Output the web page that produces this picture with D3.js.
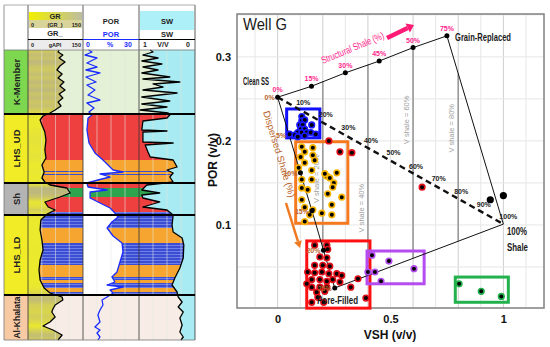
<!DOCTYPE html>
<html><head><meta charset="utf-8">
<script src="https://cdn.jsdelivr.net/npm/d3@7"></script>
<style>body{margin:0;background:#fff}svg{display:block}text{font-family:"Liberation Sans",Arial,sans-serif}</style>
</head><body><svg id="c" width="550" height="347"></svg>
<script>
// ================= WELL LOG DATA =================
const zoneNames   = ["K-Member","LHS_UD","Sh","LHS_LD","Al-Khalata"];
const zoneTops    = [0, 64, 133, 165, 245];
const zoneBottoms = [64, 133, 165, 245, 290];
const zoneColors  = ["#7dd84f","#f1ec25","#b4b4b4","#f1ec25","#f8caa4"];
const zoneTrackBg = ["#e4f1d7","#ffffff","#ffffff","#ffffff","#f7ede6"];

const lithTops    = [64, 110, 121, 124, 133, 138, 147, 162, 165, 178, 193, 215, 227, 230, 233, 238, 242];
const lithBottoms = [110,133, 122, 125, 138, 147, 162, 165, 178, 193, 215, 227, 230, 233, 238, 242, 245];
const lithTypes   = ["ls","dol","an","an","ls","sh","ls","an","an","dol","an","dol","an","dol","an","dol","an"];
const lithColors  = {ls:"#ef4040", dol:"#f6a531", an:"#3b4dd2", sh:"#2ea44e"};

const grDepth = [0,2,5,8,12,16,20,24,28,32,36,40,44,48,52,56,60,63,66,70,75,82,90,100,108,115,122,128,132,135,138,143,147,152,157,160,164,170,180,190,200,210,220,230,238,243,247,250,255,259,262,267,272,276,280,285,290];
const grValue = [85,82,95,85,101,87,79,93,82,98,87,101,85,95,82,90,74,60,41,33,38,46,49,46,49,38,44,38,46,60,106,115,87,46,55,74,52,35,33,38,41,33,30,33,44,60,93,95,74,68,65,74,60,41,68,93,82];

const porDepth = [0,2,5,8,13,17,20,23,27,32,35,40,45,50,53,58,62,65,68,80,93,103,110,117,120,122,124,127,130,133,137,140,142,148,153,158,163,167,172,178,186,193,202,212,222,227,232,235,237,240,243,247,250,255,260,265,272,277,280,283,287,290];
const porValue = [3,4.8,1.1,7.5,2.1,7.5,1.6,9.1,1.6,7.0,2.1,6.4,2.7,9.1,2.1,5.9,3.2,4.8,2.7,2.1,3.2,6.4,10.7,14.5,16.1,21.4,9.1,14.5,8.0,2.1,2.7,12.9,3.8,3.8,9.1,14.5,17.1,18.8,15.5,12.9,16.1,20.9,21.4,19.8,18.2,15.5,17.1,12.9,21.4,14.5,16.1,12.9,10.2,10.7,9.1,8.0,9.1,6.4,9.1,7.5,9.1,8.0];

const swDepth = [0,2,5,8,11,14,17,20,23,27,29,32,34,37,40,43,47,51,54,57,60,63,65,68,71,80,81,82,92,93,95,102,107,110,117,120,123,127,132,135,140,143,145,148,152,157,160,165,175,182,188,195,208,218,228,235,242,247,252,257,262,268,275,282,287,290];
const swValue = [0.8,0.75,0.93,0.66,0.95,0.59,0.93,0.66,0.95,0.45,0.93,0.27,0.75,0.57,0.93,0.32,0.95,0.45,0.95,0.5,0.98,0.48,0.45,0.5,0.93,0.95,0.5,0.93,0.93,0.39,0.89,0.84,0.8,0.39,0.32,0.5,0.39,0.45,0.39,0.86,0.95,0.63,0.95,0.93,0.63,0.93,0.5,0.39,0.41,0.39,0.23,0.2,0.21,0.27,0.36,0.41,0.32,0.3,0.23,0.3,0.21,0.27,0.23,0.27,0.21,0.25];

// ================= CROSSPLOT DATA (VSH, POR) =================
const xTicks = [0, 0.5, 1];
const yTicks = [0.1, 0.2, 0.3];
const structVsh = [0, 0.15, 0.30, 0.45, 0.60, 0.75];
const structPor = [0.252, 0.265, 0.281, 0.295, 0.311, 0.325];
const structLabels = ["0%","15%","30%","45%","50%","75%"];
const shalePoint = [1.0, 0.101];
const poreEnd = [0.253, 0.025];
const dispVsh = [0, 0.051, 0.101, 0.152, 0.203, 0.253];
const dispPor = [0.252, 0.207, 0.162, 0.117, 0.070, 0.025];
const dispLabels = ["0%","5%","10%","15%","20%","25%"];
const lamVsh = [0.1,0.2,0.3,0.4,0.5,0.6,0.7,0.8,0.9,1.0];
const lamPor = [0.237,0.222,0.207,0.192,0.177,0.161,0.146,0.131,0.116,0.101];
const lamLabels = ["10%","20%","30%","40%","50%","60%","70%","80%","90%","100%"];
const vshLineX = [0.2, 0.4, 0.6, 0.8];
const vshLineTop = [0.271, 0.291, 0.310, 0.280];
const vshLineBot = [0.072, 0.040, 0.060, 0.081];
const vshLineLabels = ["V shale = 20%","V shale = 40%","V shale = 60%","V shale = 80%"];
const vshLabelPor = [0.155, 0.12, 0.225, 0.215];

const bluePts = [[0.107,0.229],[0.107,0.224],[0.12,0.225],[0.098,0.219],[0.111,0.219],[0.151,0.219],[0.102,0.214],[0.12,0.214],[0.089,0.21],[0.107,0.21],[0.129,0.21],[0.147,0.21],[0.169,0.208],[0.076,0.207],[0.12,0.206],[0.089,0.205],[0.053,0.208]];
const orangePts = [[0.107,0.193],[0.12,0.187],[0.156,0.192],[0.102,0.181],[0.156,0.183],[0.12,0.174],[0.164,0.177],[0.093,0.168],[0.151,0.165],[0.107,0.154],[0.151,0.154],[0.107,0.144],[0.133,0.142],[0.107,0.13],[0.12,0.121],[0.156,0.118],[0.196,0.114],[0.218,0.158],[0.231,0.156],[0.249,0.15],[0.244,0.145],[0.222,0.137],[0.262,0.162],[0.284,0.133],[0.24,0.124],[0.209,0.161],[0.142,0.112],[0.12,0.104],[0.24,0.112]];
const redPts = [[0.164,0.076],[0.218,0.076],[0.222,0.071],[0.187,0.062],[0.218,0.061],[0.164,0.052],[0.2,0.052],[0.231,0.051],[0.133,0.044],[0.164,0.043],[0.196,0.044],[0.227,0.042],[0.262,0.042],[0.284,0.04],[0.151,0.035],[0.187,0.035],[0.218,0.033],[0.244,0.035],[0.276,0.032],[0.129,0.03],[0.151,0.026],[0.187,0.026],[0.218,0.026],[0.324,0.026],[0.356,0.036],[0.173,0.02],[0.209,0.021],[0.178,0.014],[0.151,0.008],[0.204,0.008],[0.391,0.013],[0.227,0.2],[0.276,0.187],[0.329,0.186],[0.64,0.145]];
const purplePts = [[0.418,0.064],[0.493,0.057],[0.604,0.048],[0.431,0.044],[0.4,0.044],[0.458,0.033]];
const greenPts = [[0.804,0.030],[0.902,0.021],[0.991,0.015]];
const blackPts = [[0.942,0.13],[1.0,0.135]];

const boxColors = ["#1010ff","#f57a1f","#ff1010","#b44cf0","#22b14c"];
const boxX0 = [0.04, 0.08, 0.129, 0.396, 0.787];
const boxX1 = [0.187, 0.311, 0.409, 0.649, 1.022];
const boxY0 = [0.2036, 0.102, 0.001, 0.030, 0.008];
const boxY1 = [0.238, 0.199, 0.081, 0.069, 0.038];

// ================= DRAW WELL LOG =================
const svg = d3.select("#c");
const defs = svg.append("defs");
const dScale = d3.scaleLinear().domain([0, 290]).range([50, 340]);
const grScale = d3.scaleLinear().domain([0,150]).range([28,83]);
const porScale = d3.scaleLinear().domain([0,30]).range([83,139]);
const swScale = d3.scaleLinear().domain([1,0]).range([139,195]);
const grColor = d3.scaleLinear().domain([40,100]).range(["#ecea2c","#bfb87c"]).clamp(true);
const tracks = [[4,28],[28,83],[83,139],[139,195]];

const pat = defs.append("pattern").attr("id","anp").attr("width",6).attr("height",3).attr("patternUnits","userSpaceOnUse");
pat.append("rect").attr("width",6).attr("height",3).attr("fill","#3b4dd2");
pat.append("rect").attr("y",2).attr("width",6).attr("height",1).attr("fill","#6f7fe6");
const lithFill = t => t === "an" ? "url(#anp)" : lithColors[t];

const grData = grDepth.map((d,i)=>[d, grValue[i]]);
const porData = porDepth.map((d,i)=>[d, porValue[i]]);
const swData = swDepth.map((d,i)=>[d, swValue[i]]);

defs.append("clipPath").attr("id","grR").append("path")
  .attr("d", d3.area().y(d=>dScale(d[0])).x0(d=>grScale(d[1])).x1(83)(grData));
defs.append("clipPath").attr("id","porR").append("path")
  .attr("d", d3.area().y(d=>dScale(d[0])).x0(d=>porScale(d[1])).x1(139)(porData));
defs.append("clipPath").attr("id","swL").append("path")
  .attr("d", d3.area().y(d=>dScale(d[0])).x0(139).x1(d=>swScale(d[1]))(swData));

zoneNames.forEach((z,i)=>{
  for (let t=1;t<4;t++){
    svg.append("rect").attr("x",tracks[t][0]).attr("y",dScale(zoneTops[i]))
      .attr("width",tracks[t][1]-tracks[t][0]).attr("height",dScale(zoneBottoms[i])-dScale(zoneTops[i]))
      .attr("fill",zoneTrackBg[i]);
  }
});
[["grR",28,83],["porR",83,139],["swL",139,195]].forEach(([cid,x0,x1])=>{
  const g = svg.append("g").attr("clip-path",`url(#${cid})`);
  lithTops.forEach((t,i)=>{
    g.append("rect").attr("x",x0).attr("width",x1-x0).attr("y",dScale(t))
     .attr("height",dScale(lithBottoms[i])-dScale(t)).attr("fill",lithFill(lithTypes[i]));
  });
});
const grad = defs.append("linearGradient").attr("id","grg").attr("gradientUnits","userSpaceOnUse")
  .attr("x1",0).attr("x2",0).attr("y1",dScale(0)).attr("y2",dScale(290));
grData.forEach(d=>grad.append("stop").attr("offset",d[0]/290).attr("stop-color",grColor(d[1])));
svg.append("path").attr("d", d3.area().y(d=>dScale(d[0])).x0(28).x1(d=>grScale(d[1]))(grData)).attr("fill","url(#grg)");
svg.append("path").attr("d", d3.area().y(d=>dScale(d[0])).x0(d=>swScale(d[1])).x1(195)(swData)).attr("fill","#a8ebf3");
const gridG = svg.append("g");
[[28,83],[83,139],[139,195]].forEach(([a,b])=>{
  for (let k=1;k<4;k++){
    const x = a + (b-a)*k/4;
    gridG.append("line").attr("x1",x).attr("x2",x).attr("y1",50).attr("y2",340)
      .attr("stroke","#ffffff").attr("stroke-opacity",0.45).attr("stroke-width",1);
    gridG.append("line").attr("x1",x).attr("x2",x).attr("y1",50).attr("y2",340)
      .attr("stroke","#98b090").attr("stroke-opacity",0.25).attr("stroke-width",0.6);
  }
});
zoneNames.forEach((z,i)=>{
  const y0 = dScale(zoneTops[i]), y1 = dScale(zoneBottoms[i]);
  svg.append("rect").attr("x",4).attr("y",y0).attr("width",24).attr("height",y1-y0).attr("fill",zoneColors[i]);
  svg.append("text").attr("transform",`translate(19.5,${(y0+y1)/2}) rotate(-90)`).attr("text-anchor","middle")
    .attr("font-size", z==="Al-Khalata"?8.5:9.5).attr("font-weight","bold").attr("fill","#222").text(z);
});
const curveLine = sc => d3.line().x(d=>sc(d[1])).y(d=>dScale(d[0]));
svg.append("path").attr("d", curveLine(grScale)(grData)).attr("fill","none").attr("stroke","#000").attr("stroke-width",1.3).attr("stroke-linejoin","round");
svg.append("path").attr("d", curveLine(porScale)(porData)).attr("fill","none").attr("stroke","#1a2bff").attr("stroke-width",1.3).attr("stroke-linejoin","round");
svg.append("path").attr("d", curveLine(swScale)(swData)).attr("fill","none").attr("stroke","#000").attr("stroke-width",1.3).attr("stroke-linejoin","round");
tracks.forEach(t=>{
  svg.append("line").attr("x1",t[1]).attr("x2",t[1]).attr("y1",5).attr("y2",340).attr("stroke","#333").attr("stroke-width",0.8);
});
svg.append("line").attr("x1",4).attr("x2",4).attr("y1",5).attr("y2",340).attr("stroke","#777").attr("stroke-width",0.8);
zoneTops.slice(1).forEach(t=>{
  svg.append("line").attr("x1",4).attr("x2",195).attr("y1",dScale(t)).attr("y2",dScale(t)).attr("stroke","#000").attr("stroke-width",2);
});
svg.append("line").attr("x1",4).attr("x2",195).attr("y1",50).attr("y2",50).attr("stroke","#777").attr("stroke-width",0.8);
svg.append("line").attr("x1",4).attr("x2",195).attr("y1",340).attr("y2",340).attr("stroke","#777").attr("stroke-width",0.8);
svg.append("line").attr("x1",4).attr("x2",195).attr("y1",5).attr("y2",5).attr("stroke","#999").attr("stroke-width",0.8);

const hg = svg.append("g");
const gradH = defs.append("linearGradient").attr("id","hgr");
gradH.append("stop").attr("offset",0).attr("stop-color","#f2f000");
gradH.append("stop").attr("offset",1).attr("stop-color","#bdbda0");
hg.append("rect").attr("x",29).attr("y",12).attr("width",53).attr("height",8).attr("fill","url(#hgr)");
hg.append("rect").attr("x",29).attr("y",20).attr("width",53).attr("height",8).attr("fill","#d9d49a");
hg.append("rect").attr("x",29).attr("y",40).attr("width",53).attr("height",9).attr("fill","#ececec");
hg.append("rect").attr("x",140).attr("y",11).attr("width",54).attr("height",19).attr("fill","#aef0f8");
hg.append("line").attr("x1",28).attr("x2",83).attr("y1",39.5).attr("y2",39.5).attr("stroke","#000").attr("stroke-width",1);
hg.append("line").attr("x1",83).attr("x2",139).attr("y1",39.5).attr("y2",39.5).attr("stroke","#1a2bff").attr("stroke-width",1);
hg.append("line").attr("x1",139).attr("x2",195).attr("y1",39.5).attr("y2",39.5).attr("stroke","#000").attr("stroke-width",1);
const ht = (x,y,s,t,col,anchor)=>hg.append("text").attr("x",x).attr("y",y).attr("font-size",s).attr("font-weight","bold")
  .attr("fill",col||"#222").attr("text-anchor",anchor||"middle").text(t);
ht(55,19,7.5,"GR"); ht(31,27,5.5,"0","#222","start"); ht(55,27,5.5,"(GR_)"); ht(81,27,5.5,"150","#222","end");
ht(55,36,7.5,"GR_"); ht(31,46.5,5.5,"0","#222","start"); ht(55,46.5,5.5,"gAPI"); ht(81,46.5,5.5,"150","#222","end");
ht(111,24,7.5,"POR"); ht(111,37,7.5,"POR","#1a2bff");
ht(88,47,7,"0","#1a2bff"); ht(110,47,7,"%","#1a2bff"); ht(128,47,7,"30","#1a2bff");
ht(167,24,7.5,"SW"); ht(167,37,7.5,"SW");
ht(145,47,7,"1"); ht(163,47,7,"V/V"); ht(188,47,7,"0");

// ================= DRAW CROSSPLOT =================
const x = d3.scaleLinear().domain([-0.18, 1.18]).range([237, 544]);
const y = d3.scaleLinear().domain([0, 0.351]).range([309, 14]);
const cp = svg.append("g");
cp.append("rect").attr("x",237).attr("y",14).attr("width",307).attr("height",294).attr("fill","#fff");
d3.range(-1, 12).map(i=>i/10).forEach(v=>{
  cp.append("line").attr("x1",x(v)).attr("x2",x(v)).attr("y1",14).attr("y2",308)
    .attr("stroke", Math.round(v*10)%2===0 ? "#cfcfcf" : "#e6e6e6").attr("stroke-width",1);
});
d3.range(1, 8).map(i=>i*0.05).forEach(v=>{
  cp.append("line").attr("x1",237).attr("x2",544).attr("y1",y(v)).attr("y2",y(v)).attr("stroke","#e6e6e6").attr("stroke-width",1);
});
vshLineX.forEach((v,i)=>{
  cp.append("line").attr("x1",x(v)).attr("x2",x(v)).attr("y1",y(vshLineTop[i])).attr("y2",y(vshLineBot[i]))
    .attr("stroke","#9a9a9a").attr("stroke-width",1.6);
  cp.append("text").attr("transform",`translate(${x(v)-4},${y(vshLabelPor[i])}) rotate(-90)`).attr("text-anchor","middle")
    .attr("font-size",7.5).attr("fill","#a0a0a0").text(vshLineLabels[i]);
});
cp.append("rect").attr("x",237).attr("y",14).attr("width",307).attr("height",294).attr("fill","none").attr("stroke","#808080").attr("stroke-width",1.5);

boxColors.forEach((c,i)=>{
  cp.append("rect").attr("x",x(boxX0[i])).attr("y",y(boxY1[i])).attr("width",x(boxX1[i])-x(boxX0[i]))
    .attr("height",y(boxY0[i])-y(boxY1[i])).attr("fill","none").attr("stroke",c).attr("stroke-width",3);
});

const line = d3.line().x(d=>x(d[0])).y(d=>y(d[1]));
const structPts = structVsh.map((v,i)=>[v, structPor[i]]);
cp.append("path").attr("d", line([...structPts, shalePoint, poreEnd])).attr("fill","none").attr("stroke","#111").attr("stroke-width",1);
const dispPts = dispVsh.map((v,i)=>[v, dispPor[i]]);
cp.append("path").attr("d", line(dispPts)).attr("fill","none").attr("stroke","#111").attr("stroke-width",1);
cp.append("path").attr("d", line([structPts[0], shalePoint])).attr("fill","none").attr("stroke","#111").attr("stroke-width",2.4).attr("stroke-dasharray","6,4");

const drawPts = (pts, col) => cp.append("g").selectAll("circle").data(pts).join("circle")
  .attr("cx",d=>x(d[0])).attr("cy",d=>y(d[1])).attr("r",2.8).attr("fill","#000").attr("stroke",col).attr("stroke-width",1.6);
drawPts(orangePts, "#f7b500");
drawPts(redPts, "#e0101a");
drawPts(bluePts, "#1a1aff");
drawPts(purplePts, "#b44cf0");
drawPts(greenPts, "#22b14c");
drawPts(blackPts, "#000");
cp.append("g").selectAll("circle").data(structPts).join("circle").attr("cx",d=>x(d[0])).attr("cy",d=>y(d[1])).attr("r",2.5).attr("fill","#000");
cp.append("g").selectAll("circle").data(dispPts.slice(2)).join("circle").attr("cx",d=>x(d[0])).attr("cy",d=>y(d[1])).attr("r",2.5).attr("fill","#000");

structPts.forEach((p,i)=>{
  cp.append("text").attr("x",x(p[0])).attr("y",y(p[1])-5).attr("text-anchor","middle").attr("font-size",7).attr("font-weight","bold")
    .attr("fill","#ff1f8e").text(structLabels[i]);
});
dispPts.forEach((p,i)=>{
  cp.append("text").attr("x",x(p[0])-3).attr("y",y(p[1])+3).attr("text-anchor","end").attr("font-size",7).attr("font-weight","bold")
    .attr("fill","#b8642a").text(dispLabels[i]);
});
lamVsh.forEach((v,i)=>{
  cp.append("text").attr("x",x(v)-4).attr("y",y(lamPor[i])-5).attr("font-size",7).attr("font-weight","bold")
    .attr("fill","#222").text(lamLabels[i]);
});

const ann = (tx,ty,s,t,opts={})=>{
  const e = cp.append("text").attr("x",tx).attr("y",ty).attr("font-size",s).attr("fill",opts.fill||"#1a1a1a")
    .attr("font-weight",opts.bold?"bold":"normal").text(t);
  if (opts.len) e.attr("textLength",opts.len).attr("lengthAdjust","spacingAndGlyphs");
  if (opts.anchor) e.attr("text-anchor",opts.anchor);
  return e;
};
ann(243,30,16,"Well G",{len:44});
ann(243,85,10,"Clean SS",{len:26, bold:true});
ann(455,41,10.5,"Grain-Replaced",{len:56, bold:true});
ann(507,235,10,"100%",{len:20, bold:true});
ann(507,251,10,"Shale",{len:21, bold:true});
ann(317,304,10,"Pore-Filled",{len:41, bold:true});
cp.append("text").attr("transform","translate(323,64) rotate(-22.7)").attr("font-size",10).attr("fill","#ff1f8e")
  .attr("textLength",67).attr("lengthAdjust","spacingAndGlyphs").text("Structural Shale (%)");
cp.append("text").attr("transform","translate(263,112) rotate(73)").attr("font-size",9.5).attr("fill","#b8642a")
  .attr("textLength",90).attr("lengthAdjust","spacingAndGlyphs").text("Dispersed Shale (%)");
const arrow = (x1,y1,x2,y2,col,w,hl,hw)=>{
  const a = Math.atan2(y2-y1,x2-x1);
  const bx = x2 - hl*Math.cos(a), by = y2 - hl*Math.sin(a);
  cp.append("line").attr("x1",x1).attr("y1",y1).attr("x2",bx).attr("y2",by).attr("stroke",col).attr("stroke-width",w);
  cp.append("path").attr("d",`M${x2},${y2}L${bx+hw*Math.sin(a)},${by-hw*Math.cos(a)}L${bx-hw*Math.sin(a)},${by+hw*Math.cos(a)}Z`).attr("fill",col);
};
arrow(387,38,414,25,"#ff1a75",4.5,7,5);
arrow(286,203,300,248,"#f07a22",2.5,7,4);

const yAxis = svg.append("g").attr("transform","translate(236,0)").call(d3.axisLeft(y).tickValues(yTicks).tickSize(0).tickPadding(5).tickFormat(d3.format(".1f")));
yAxis.select(".domain").remove();
yAxis.selectAll("text").attr("font-size",11).attr("font-weight","bold").attr("fill","#111").attr("font-family","Liberation Sans, Arial, sans-serif");
const xAxis = svg.append("g").attr("transform","translate(0,309)").call(d3.axisBottom(x).tickValues(xTicks).tickSize(0).tickPadding(6).tickFormat(d=>d===0?"0":d===1?"1":d));
xAxis.select(".domain").remove();
xAxis.selectAll("text").attr("font-size",11).attr("font-weight","bold").attr("fill","#111").attr("font-family","Liberation Sans, Arial, sans-serif");
svg.append("text").attr("transform","translate(217,160) rotate(-90)").attr("text-anchor","middle").attr("font-size",12).attr("font-weight","bold").attr("fill","#111").text("POR (v/v)");
svg.append("text").attr("x",390).attr("y",339).attr("text-anchor","middle").attr("font-size",12).attr("font-weight","bold").attr("fill","#111").text("VSH (v/v)");
</script></body></html>
